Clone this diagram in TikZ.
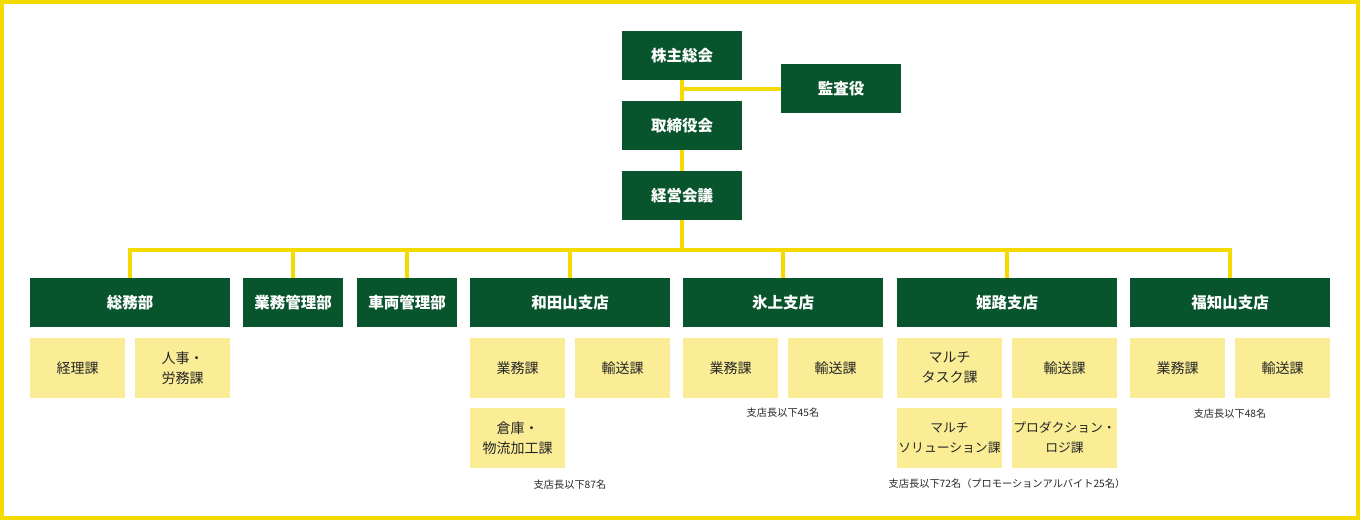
\documentclass[tikz,border=0pt]{standalone}
\usepackage{fontspec}
\setmainfont{Noto Sans CJK JP}
\usetikzlibrary{positioning, calc}
\definecolor{orggreen}{RGB}{8,85,45}
\definecolor{orgyellow}{RGB}{245,218,0}
\definecolor{secyellow}{RGB}{250,237,150}
\tikzset{
	head/.style={rectangle, fill=orggreen, text=white, align=center, inner sep=0pt, outer sep=0pt,
		minimum width=120pt, minimum height=49pt, font=\bfseries\fontsize{15.5}{18}\selectfont},
	dept/.style={head, minimum width=200pt},
	sect/.style={rectangle, fill=secyellow, text=black!85, align=center, inner sep=0pt, outer sep=0pt,
		minimum width=95pt, minimum height=60pt, font=\fontsize{14}{20}\selectfont},
	sectwide/.style={sect, minimum width=105pt},
	note/.style={inner sep=0pt, text=black!85, font=\fontsize{10.2}{12}\selectfont},
	bus/.style={draw=orgyellow, line width=4pt}
}
\begin{document}
\begin{tikzpicture}[x=1pt, y=-1pt]
        \useasboundingbox (0,0) rectangle (1360,520);
        \draw[orgyellow, line width=4pt] (2,2) rectangle (1358,518);

        % top of the organisation
        \node[head] (kabu) at (682, 55.5) {株主総会};
        \node[head] (kansa) at (841, 88.5) {監査役};
        \node[head] (tori) at (682, 125.5) {取締役会};
        \node[head] (keiei) at (682, 195.5) {経営会議};

        \coordinate (kansajoint) at (682, 88.5);
        \coordinate (bus) at (682, 250);

        % departments and branches
        \node[dept] (somu) at (130, 302.5) {総務部};
        \node[dept, minimum width=100pt] (gyomukanri) at (293, 302.5) {業務管理部};
        \node[dept, minimum width=100pt] (sharyo) at (407, 302.5) {車両管理部};
        \node[dept] (wadayama) at (570, 302.5) {和田山支店};
        \node[dept] (hikami) at (783, 302.5) {氷上支店};
        \node[dept, minimum width=220pt] (himeji) at (1007, 302.5) {姫路支店};
        \node[dept] (fukuchiyama) at (1230, 302.5) {福知山支店};

        % sections
        \node[sect] (keiri) at (77.5, 368) {経理課};
        \node[sect] (jinji) at (182.5, 368) {人事・\\労務課};

        \node[sect] (wgyomu) at (517.5, 368) {業務課};
        \node[sect] (wyuso) at (622.5, 368) {輸送課};
        \node[sect] (wsoko) at (517.5, 438) {倉庫・\\物流加工課};

        \node[sect] (hgyomu) at (730.5, 368) {業務課};
        \node[sect] (hyuso) at (835.5, 368) {輸送課};

        \node[sectwide] (mtask) at (949.5, 368) {マルチ\\タスク課};
        \node[sectwide] (myuso) at (1064.5, 368) {輸送課};
        \node[sectwide, font=\fontsize{12.8}{20}\selectfont] (msol) at (949.5, 438) {マルチ\\ソリューション課};
        \node[sectwide, font=\fontsize{12.8}{20}\selectfont] (mprod) at (1064.5, 438) {プロダクション・\\ロジ課};

        \node[sect] (fgyomu) at (1177.5, 368) {業務課};
        \node[sect] (fyuso) at (1282.5, 368) {輸送課};

        % staff counts
        \node[note] (wnote) at (570, 485) {支店長以下87名};
        \node[note] (hnote) at (783, 412.5) {支店長以下45名};
        \node[note] (mnote) at (1007, 484) {支店長以下72名（プロモーションアルバイト25名）};
        \node[note] (fnote) at (1230, 414) {支店長以下48名};

        \draw[bus] (kabu) -- (tori);
        \draw[bus] (kansajoint) -- (kansa.west);
        \draw[bus] (tori) -- (keiei);
        \draw[bus] (keiei.south) -- (bus);
        \foreach \d in {somu, gyomukanri, sharyo, wadayama, hikami, himeji, fukuchiyama}
            \draw[bus] (\d.north) |- (bus);
    \end{tikzpicture}
\end{document}
